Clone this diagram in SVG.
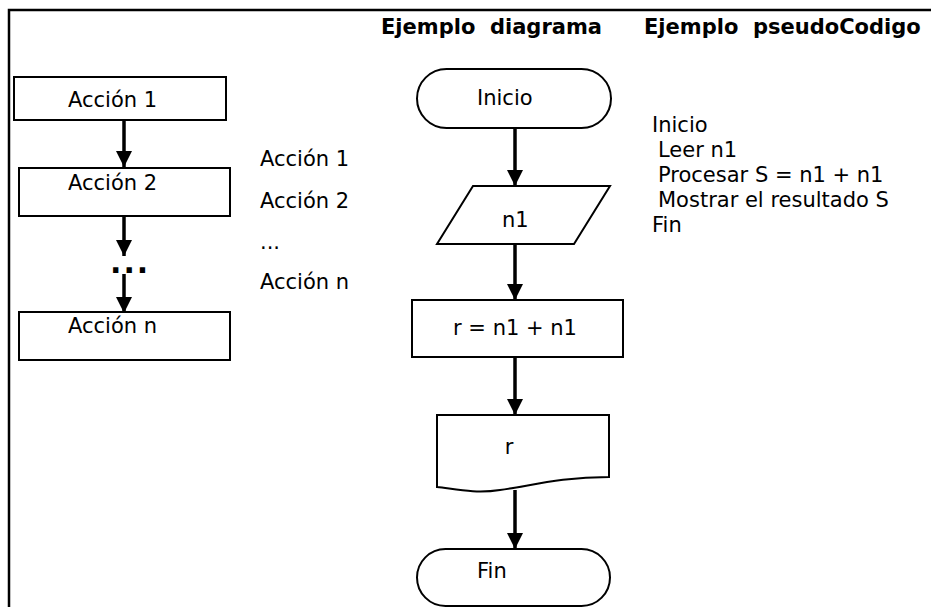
<svg xmlns="http://www.w3.org/2000/svg" width="931" height="607" viewBox="0 0 931 607">
<style>
text{font-family:"DejaVu Sans","Liberation Sans",sans-serif;font-size:21px;fill:#000}
.b{font-weight:bold;font-size:21px}
.d{font-weight:bold;font-size:30px;letter-spacing:2px}
.s{fill:#fff;stroke:#000;stroke-width:2}
.c{stroke:#000;stroke-width:3.5;fill:none}
</style>
<defs>
<marker id="ah" viewBox="0 0 16 16" markerWidth="16" markerHeight="16" markerUnits="userSpaceOnUse" refX="16" refY="8" orient="auto">
<path d="M0,0 L16,8 L0,16 z" fill="#000"/>
</marker>
</defs>
<rect width="931" height="607" fill="#fff"/>
<g id="frame">
<path d="M9,607 V10 H931" fill="none" stroke="#000" stroke-width="2.5"/>
</g>
<g id="headers">
<text class="b" x="381" y="34" xml:space="preserve">Ejemplo  diagrama</text>
<text class="b" x="644" y="34" xml:space="preserve">Ejemplo  pseudoCodigo</text>
</g>
<g id="accion1"><rect class="s" x="14" y="77" width="212" height="43"/><text x="68" y="107">Acción 1</text></g>
<g id="accion2"><rect class="s" x="19" y="168" width="211" height="48"/><text x="68" y="190">Acción 2</text></g>
<g id="dots"><text class="d" x="110" y="273">...</text></g>
<g id="accionn"><rect class="s" x="19" y="312" width="211" height="48"/><text x="68" y="333">Acción n</text></g>
<g id="list">
<text x="260" y="166">Acción 1</text>
<text x="260" y="208">Acción 2</text>
<text x="260" y="249">...</text>
<text x="260" y="289">Acción n</text>
</g>
<g id="inicio"><rect class="s" x="417" y="69" width="194" height="59" rx="29.5"/><text x="477" y="105">Inicio</text></g>
<g id="n1"><path class="s" d="M473,186 H610 L574,244 H437 Z"/><text x="502" y="227">n1</text></g>
<g id="proc"><rect class="s" x="412" y="300" width="211" height="57"/><text x="515" y="335" text-anchor="middle">r = n1 + n1</text></g>
<g id="out"><path class="s" d="M437,415 H609 V477 C560,477 530,486 500,490 C475,494 455,489 437,487 Z"/><text x="509" y="454" text-anchor="middle">r</text></g>
<g id="fin"><rect class="s" x="417" y="549" width="193" height="57" rx="28.5"/><text x="477" y="578">Fin</text></g>
<g id="pseudo">
<text x="652" y="132">Inicio</text>
<text x="658" y="157">Leer n1</text>
<text x="658" y="182">Procesar S = n1 + n1</text>
<text x="658" y="207">Mostrar el resultado S</text>
<text x="652" y="232">Fin</text>
</g>
<g id="connectors">
<line class="c" x1="124" y1="120" x2="124" y2="167" marker-end="url(#ah)"/>
<line class="c" x1="124" y1="216" x2="124" y2="256" marker-end="url(#ah)"/>
<line class="c" x1="124" y1="274" x2="124" y2="313" marker-end="url(#ah)"/>
<line class="c" x1="515" y1="128" x2="515" y2="186" marker-end="url(#ah)"/>
<line class="c" x1="515" y1="244" x2="515" y2="300" marker-end="url(#ah)"/>
<line class="c" x1="515" y1="357" x2="515" y2="415" marker-end="url(#ah)"/>
<line class="c" x1="515" y1="490" x2="515" y2="549" marker-end="url(#ah)"/>
</g>
</svg>
